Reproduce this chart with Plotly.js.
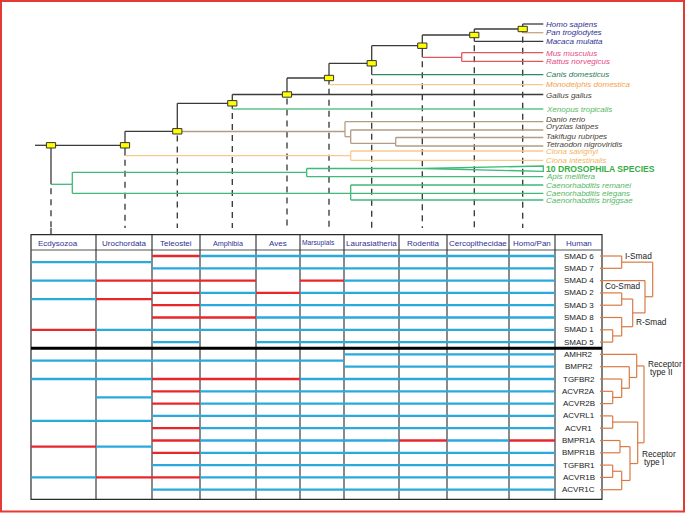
<!DOCTYPE html>
<html><head><meta charset="utf-8">
<script src="https://cdn.plot.ly/plotly-3.0.1.min.js"></script>
<style>html,body{margin:0;padding:0;background:#fff}#chart{width:685px;height:513px}</style>
</head><body><div id="chart"></div>
<script>
// ================= DATA =================
const species = ["Homo sapiens","Pan troglodytes","Macaca mulatta","Mus musculus","Rattus norvegicus",
  "Canis domesticus","Monodelphis domestica","Gallus gallus","Xenopus tropicalis","Danio rerio",
  "Oryzias latipes","Takifugu rubripes","Tetraodon nigroviridis","Ciona savignyi","Ciona intestinalis",
  "10 DROSOPHILA SPECIES","Apis mellifera","Caenorhabditis remanei","Caenorhabditis elegans","Caenorhabditis briggsae"];
const speciesParent = ["homininae","homininae","catarrhini","rodentia","rodentia","eutheria","mammalia","amniota",
  "tetrapoda","teleostei","percomorpha","tetraodontidae","tetraodontidae","ciona","ciona","insecta","insecta",
  "caenorhabditis","caenorhabditis","caenorhabditis"];
const treeNodeNames = ["root","chordata","vertebrata","tetrapoda","amniota","mammalia","eutheria","euarchontoglires",
  "catarrhini","homininae","protostomia","insecta","caenorhabditis","ciona","teleostei","percomorpha","tetraodontidae","rodentia"];
const treeNodeParent = [null,"root","chordata","vertebrata","tetrapoda","amniota","mammalia","eutheria",
  "euarchontoglires","catarrhini","root","protostomia","protostomia","chordata","vertebrata","teleostei","percomorpha","euarchontoglires"];

const clades = ["Ecdysozoa","Urochordata","Teleostei","Amphibia","Aves","Marsupials","Laurasiatheria","Rodentia","Cercopithecidae","Homo/Pan"];
const cladeNode = ["root","chordata","vertebrata","tetrapoda","amniota","mammalia","eutheria","euarchontoglires","catarrhini","homininae"];
const humanHeader = "Human";

const smadGenes = ["SMAD 6","SMAD 7","SMAD 4","SMAD 2","SMAD 3","SMAD 8","SMAD 1","SMAD 5"];
const receptorGenes = ["AMHR2","BMPR2","TGFBR2","ACVR2A","ACVR2B","ACVRL1","ACVR1","BMPR1A","BMPR1B","TGFBR1","ACVR1B","ACVR1C"];

// ortholog lines per clade: gene-row position (0 = SMAD 6 ... 19 = ACVR1C) and colour state (b = blue, r = red)
const ecdysozoaRows = [0.5,2,3.5,6,8.5,10,13.4,15.5,18];            const ecdysozoaState = "bbbrbbbrb";
const urochordataRows = [0.5,2,3.5,6,8.5,10,11.5,13.4,15.5,18];     const urochordataState = "brrbbbbbbr";
const teleosteiRows = [0,1,2,3,4,5,6,7,8.5,10,11,12,13,14,15,16,17,18,19]; const teleosteiState = "rbrrrrbbbrrrbrrrbrb";
const amphibiaRows = [0,1,2,3,4,5,6,8.5,10,11,12,13,14,15,16,17,18,19];    const amphibiaState = "bbrbbrbbrbbbbbbbbb";
const avesRows = [0,1,3,4,5,6,7,8.5,10,11,12,13,14,15,16,17,18,19];        const avesState = "bbrbbbbbrbbbbbbbbb";
const marsupialsRows = [0,1,2,3,4,5,6,7,8.5,10,11,12,13,14,15,16,17,18,19]; const marsupialsState = "bbrbbbbbbbbbbbbbbbb";
const laurasiatheriaRows = [0,1,2,3,4,5,6,7,8,9,10,11,12,13,14,15,16,17,18,19]; const laurasiatheriaState = "bbbbbbbbbbbbbbbbbbbb";
const rodentiaRows = [0,1,2,3,4,5,6,7,8,9,10,11,12,13,14,15,16,17,18,19];   const rodentiaState = "bbbbbbbbbbbbbbbrbbbb";
const cercopithecidaeRows = [0,1,2,3,4,5,6,7,8,9,10,11,12,13,14,15,16,17,18,19]; const cercopithecidaeState = "bbbbbbbbbbbbbbbbbbbb";
const homoPanRows = [0,1,2,3,4,5,6,7,8,9,10,11,12,13,14,15,16,17,18,19];    const homoPanState = "bbbbbbbbbbbbbbbrbbbb";

// gene dendrograms (topology only)
const smadTopology = [["SMAD 6","SMAD 7"],["SMAD 4",[["SMAD 2","SMAD 3"],["SMAD 8",["SMAD 1","SMAD 5"]]]]];
const receptorTopology = [["AMHR2",["BMPR2",["TGFBR2",["ACVR2A","ACVR2B"]]]],
  [["ACVRL1","ACVR1"],[["BMPR1A","BMPR1B"],[["TGFBR1","ACVR1B"],"ACVR1C"]]]];
const groupLabels = ["I-Smad","Co-Smad","R-Smad","Receptor","type II","Receptor","type I"];

// ================= LAYOUT GEOMETRY / STYLE =================
const FONT = "Liberation Sans, Arial, sans-serif";
const colEdges = [31,96,152,200,256,300,344,399,447,509,555,602];
const TABLE = {top:234.7, head:250, bottom:499.3};
const ROW0 = 256, PITCH = 12.3;
const NODE_POS = {root:[51,145.3],chordata:[125,145.3],vertebrata:[177.3,131.3],tetrapoda:[232.3,103.3],
  amniota:[287,94.5],mammalia:[329,78],eutheria:[371.7,63.3],euarchontoglires:[422.3,45.7],catarrhini:[474.3,35],
  homininae:[522.7,29],protostomia:[72.3,184.3],insecta:[306.7,172.3],caenorhabditis:[350.7,193.3],
  ciona:[350.7,155.7],teleostei:[345,131.5],percomorpha:[350.7,136.7],tetraodontidae:[395.7,143.3],rodentia:[461.7,57.3]};
const BOXED = ["root","chordata","vertebrata","tetrapoda","amniota","mammalia","eutheria","euarchontoglires","catarrhini","homininae"];
const TIP_Y = [24,32.7,41.3,52.7,61.3,74.7,84.7,94.5,109,121.7,130,137.5,146,151,160.3,168.5,176.7,185,193.3,200];
const LABEL_DY = [0,0,0,0.3,0.3,0,0,1.3,0,-2.2,-3.2,-1.4,-1.3,0,0,0,0,0,0,0];
const TIP_X = 543.3, DROS_X = 422;
const BLACK = "#3a3a3a", GREEN = "#3dba7a", ORANGE = "#f8c98c", BROWN = "#b49c84", RED = "#e0565c";
const NODE_COLOR = {protostomia:GREEN,insecta:GREEN,caenorhabditis:GREEN,ciona:ORANGE,teleostei:BROWN,
  percomorpha:BROWN,tetraodontidae:BROWN,rodentia:RED};
const TIP_LINE = [BLACK,"#c9a57e",BLACK,RED,RED,"#2d8a60",ORANGE,BLACK,"#5cc38c",BROWN,BROWN,BROWN,BROWN,
  ORANGE,ORANGE,GREEN,GREEN,GREEN,GREEN,GREEN];
const TIP_TEXT = ["#2e3192","#2e3192","#2e3192","#e8467f","#e8467f","#267a55","#f3a348","#4a4238","#55b862",
  "#4a3f36","#4a3f36","#4a3f36","#4a3f36","#f4b45a","#f4b45a","#36ad46","#55b862","#55b862","#55b862","#55b862"];
const SMAD_NODE_X = [621.7,621.7,612.7,621.7,632.7,645,652.7];
const REC_NODE_X = [612.7,621.7,629.3,636.7,612.7,620,612.7,621.7,630,637.7,644];
const GROUP_LABEL_POS = [[638.5,256],[622,286],[651.5,322],[664.5,364],[661.3,371.8],[658.7,454],[653.8,462]];
const HEADER_DX = [-5.7,0,0,0,0,-4,0,0,0,0];
const HEADER_SIZE = [8,8,8,7.2,8,6.7,8,8,8,8];
const DEND_COLOR = "#d97a44";
const BLUE = "#29a9dc", CELLRED = "#e8272d";

// ================= BUILD =================
const traces = [];
const shapes = [];
const annotations = [];
const segByColor = {};
function seg(color, xs, ys, yaxis) {
  const key = color + "|" + (yaxis || "y");
  if (!segByColor[key]) segByColor[key] = {x:[], y:[], color, yaxis: yaxis || "y"};
  segByColor[key].x.push(...xs, null);
  segByColor[key].y.push(...ys, null);
}
const nodeColor = n => NODE_COLOR[n] || BLACK;

// tree edges between internal nodes
treeNodeNames.forEach((n, i) => {
  const p = treeNodeParent[i];
  if (!p) return;
  const [px, py] = NODE_POS[p], [cx, cy] = NODE_POS[n];
  seg(nodeColor(p), [px, px], [py, cy]);
  seg(nodeColor(n), [px, cx], [cy, cy]);
});
// root stub
seg(BLACK, [35, NODE_POS.root[0]], [NODE_POS.root[1], NODE_POS.root[1]]);
// tip edges
species.forEach((s, i) => {
  const p = speciesParent[i];
  const [px, py] = NODE_POS[p];
  const ty = TIP_Y[i];
  const tx = s.indexOf("DROSOPHILA") >= 0 ? DROS_X : TIP_X;
  seg(nodeColor(p), [px, px], [py, ty]);
  seg(TIP_LINE[i], [px, tx], [ty, ty]);
  if (tx === DROS_X) {
    seg(TIP_LINE[i], [DROS_X, TIP_X, TIP_X, DROS_X], [ty, 166, 171.3, ty]);
  }
  annotations.push({x: TIP_X + 2, y: ty + LABEL_DY[i], xref:"x", yref:"y", xanchor:"left", yanchor:"middle",
    showarrow:false, borderpad:0,
    text: s.indexOf("DROSOPHILA") >= 0 ? "<b>" + s + "</b>" : "<i>" + s + "</i>",
    font:{family:FONT, size: s.indexOf("DROSOPHILA") >= 0 ? 8.6 : 8, color: TIP_TEXT[i]}});
});

// dashed drop lines from nodes to clade columns
const dashTr = {x:[], y:[]};
cladeNode.forEach((n, i) => {
  const [nx] = NODE_POS[n];
  let low = NODE_POS[n][1];
  treeNodeNames.forEach((m, j) => { if (treeNodeParent[j] === n) low = Math.max(low, NODE_POS[m][1]); });
  species.forEach((s, j) => { if (speciesParent[j] === n) low = Math.max(low, TIP_Y[j]); });
  const y0 = low + 4;
  const y1 = i === 0 ? 229 : 228;
  traces.push({type:"scatter", mode:"lines", x:[nx, nx], y:[y0, y1], hoverinfo:"skip", showlegend:false,
    line:{color:"#333", width:1.3, dash:"6px,5px"}});
  if (i === 0) seg("#333", [nx, nx], [228, TABLE.top]);
});

// push tree segments
Object.values(segByColor).forEach(s => traces.push({type:"scatter", mode:"lines", x:s.x, y:s.y, yaxis:s.yaxis,
  hoverinfo:"skip", showlegend:false, line:{color:s.color, width:1.3}}));

// yellow node boxes
BOXED.forEach(n => {
  const [x, y] = NODE_POS[n];
  shapes.push({type:"rect", xref:"x", yref:"y", x0:x-4.6, x1:x+4.6, y0:y-2.7, y1:y+2.7,
    fillcolor:"#ffff00", line:{color:"#333", width:1}});
});

// ---- table ----
const cladeRows = [ecdysozoaRows, urochordataRows, teleosteiRows, amphibiaRows, avesRows, marsupialsRows,
  laurasiatheriaRows, rodentiaRows, cercopithecidaeRows, homoPanRows];
const cladeStates = [ecdysozoaState, urochordataState, teleosteiState, amphibiaState, avesState, marsupialsState,
  laurasiatheriaState, rodentiaState, cercopithecidaeState, homoPanState];
const blueTr = {x:[], y:[]}, redTr = {x:[], y:[]};
cladeRows.forEach((rows, c) => {
  rows.forEach((r, k) => {
    const t = cladeStates[c][k] === "r" ? redTr : blueTr;
    t.x.push(colEdges[c], colEdges[c+1], null);
    t.y.push(r, r, null);
  });
});
traces.push({type:"scatter", mode:"lines", x:blueTr.x, y:blueTr.y, yaxis:"y2", hoverinfo:"skip", showlegend:false,
  line:{color:BLUE, width:2.3}});
traces.push({type:"scatter", mode:"lines", x:redTr.x, y:redTr.y, yaxis:"y2", hoverinfo:"skip", showlegend:false,
  line:{color:CELLRED, width:2.3}});

// table frame
const L = colEdges[0], R = colEdges[colEdges.length-1];
shapes.push({type:"rect", xref:"x", yref:"y", x0:L, x1:R, y0:TABLE.top, y1:TABLE.bottom, layer:"below",
  line:{color:"#2a2a2a", width:1.2}});
shapes.push({type:"line", xref:"x", yref:"y", x0:L, x1:R, y0:TABLE.head, y1:TABLE.head, layer:"below",
  line:{color:"#555", width:1}});
colEdges.slice(1, -1).forEach(x => shapes.push({type:"line", xref:"x", yref:"y", x0:x, x1:x, y0:TABLE.top,
  y1:TABLE.bottom, layer:"below", line:{color:"#2a2a2a", width:1.1}}));
shapes.push({type:"line", xref:"x", yref:"y2", x0:L, x1:R, y0:smadGenes.length - 0.5, y1:smadGenes.length - 0.5,
  line:{color:"#000", width:3}});

// headers
clades.concat([humanHeader]).forEach((h, i) => {
  annotations.push({x:(colEdges[i] + colEdges[i+1]) / 2 + (HEADER_DX[i] || 0), y:243, xref:"x", yref:"y",
    showarrow:false, borderpad:0, text:h, font:{family:FONT, size:HEADER_SIZE[i] || 8, color:"#2e3192"}});
});
// gene labels
const allGenes = smadGenes.concat(receptorGenes);
allGenes.forEach((g, i) => annotations.push({x:(colEdges[10] + colEdges[11]) / 2, y:i, xref:"x", yref:"y2",
  showarrow:false, borderpad:0, text:g, font:{family:FONT, size:8, color:"#222"}}));

// gene dendrograms
function dendro(topo, xs, offset) {
  let k = 0;
  function walk(node) {
    if (typeof node === "string") return {x:600, y:allGenes.indexOf(node)};
    const kids = node.map(walk);
    const nx = xs[k++];
    const ys = kids.map(c => c.y);
    kids.forEach(c => seg(DEND_COLOR, [c.x, nx], [c.y, c.y], "y2"));
    seg(DEND_COLOR, [nx, nx], [Math.min(...ys), Math.max(...ys)], "y2");
    return {x:nx, y:ys.reduce((a, b) => a + b, 0) / ys.length};
  }
  walk(topo);
}
for (const key in segByColor) delete segByColor[key];
dendro(smadTopology, SMAD_NODE_X);
dendro(receptorTopology, REC_NODE_X);
Object.values(segByColor).forEach(s => traces.push({type:"scatter", mode:"lines", x:s.x, y:s.y, yaxis:s.yaxis,
  hoverinfo:"skip", showlegend:false, line:{color:s.color, width:1.2}}));

groupLabels.forEach((t, i) => annotations.push({x:GROUP_LABEL_POS[i][0], y:GROUP_LABEL_POS[i][1], xref:"x", yref:"y",
  showarrow:false, borderpad:0, text:t, font:{family:FONT, size:8.3, color:"#222"}}));

// red outer frame
shapes.push({type:"rect", xref:"x", yref:"y", x0:1, x1:684, y0:1, y1:511.6, line:{color:"#e53935", width:2}});

const W = 685, H = 513;
const layout = {
  width:W, height:H, margin:{l:0, r:0, t:0, b:0}, paper_bgcolor:"#fff", plot_bgcolor:"#fff", showlegend:false,
  xaxis:{range:[0, W], visible:false, fixedrange:true},
  yaxis:{range:[H, 0], visible:false, fixedrange:true},
  yaxis2:{range:[(H - ROW0) / PITCH, (0 - ROW0) / PITCH], overlaying:"y", visible:false, fixedrange:true},
  shapes, annotations
};
Plotly.newPlot("chart", traces, layout, {staticPlot:true, displayModeBar:false});
</script></body></html>
